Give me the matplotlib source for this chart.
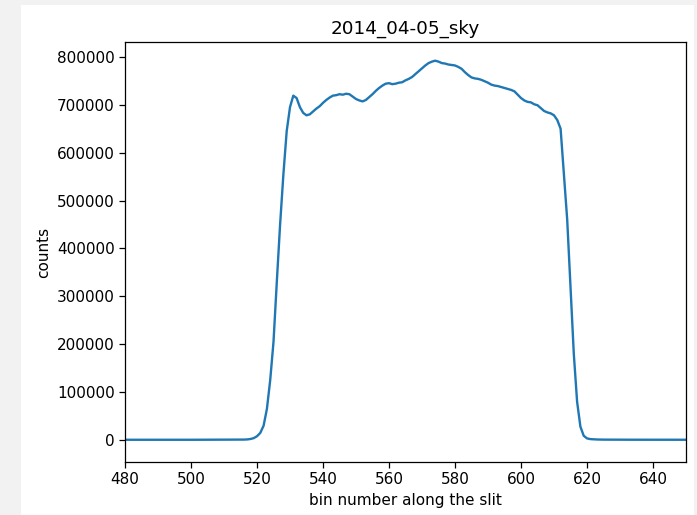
import matplotlib
matplotlib.use("Agg")
import matplotlib.pyplot as plt
from matplotlib.patches import Rectangle

# Sky spectrum collapsed along the dispersion axis: counts per spatial bin
bins = list(range(480, 651))
counts = [
    # 480-499
    620, 610, 630, 600, 610, 620, 640, 610, 600, 620,
    630, 610, 620, 640, 630, 610, 620, 630, 640, 650,
    # 500-519
    640, 630, 650, 660, 650, 640, 660, 670, 680, 690,
    700, 720, 740, 780, 830, 900, 1000, 1300, 2200, 4000,
    # 520-539
    8000, 15000, 30000, 65000, 125000, 205000, 330000, 450000, 555000, 645000,
    695000, 719000, 714000, 695000, 683000, 678000, 680000, 686000, 692000, 697000,
    # 540-559
    704000, 710000, 715000, 719000, 720000, 722000, 721000, 723000, 722000, 717000,
    712000, 709000, 707000, 710000, 716000, 722000, 729000, 735000, 740000, 744000,
    # 560-579
    745000, 743000, 744000, 746000, 747000, 751000, 754000, 758000, 764000, 770000,
    776000, 782000, 787000, 790000, 792000, 790000, 787000, 786000, 784000, 783000,
    # 580-599
    782000, 779000, 775000, 768000, 762000, 757000, 755000, 754000, 752000, 749000,
    746000, 742000, 740000, 739000, 737000, 735000, 733000, 731000, 728000, 721000,
    # 600-619
    714000, 709000, 706000, 705000, 701000, 699000, 693000, 687000, 684000, 682000,
    678000, 668000, 650000, 555000, 460000, 320000, 180000, 80000, 28000, 9000,
    # 620-639
    3500, 2000, 1500, 1200, 1000, 900, 850, 800, 780, 760,
    750, 740, 730, 720, 710, 700, 700, 690, 690, 680,
    # 640-650
    680, 670, 670, 660, 660, 650, 650, 640, 640, 630, 630,
]

xticks = [480, 500, 520, 540, 560, 580, 600, 620, 640]
yticks = [0, 100000, 200000, 300000, 400000, 500000, 600000, 700000, 800000]

fig = plt.figure(figsize=(6.97, 5.15), dpi=100, facecolor="#f2f2f2")
# white canvas on the grey page, kept behind the axes
fig.patches.append(Rectangle((21 / 697, 0), 673 / 697, 510 / 515,
                             transform=fig.transFigure, facecolor="white",
                             edgecolor="none", zorder=-10))

ax = fig.add_axes([125 / 697, 1 - 462 / 515, 561 / 697, 420 / 515])
ax.plot(bins, counts, color="#1f77b4", lw=1.7)

ax.set_xlim(480, 650)
ax.set_ylim(-45800, 831000)
ax.set_xticks(xticks)
ax.set_yticks(yticks)
ax.ticklabel_format(style="plain", axis="y")
ax.tick_params(labelsize=11, length=4, width=0.9)
for s in ax.spines.values():
    s.set_linewidth(0.9)

ax.set_title("2014_04-05_sky", fontsize=13.2)
ax.set_xlabel("bin number along the slit", fontsize=11)
ax.set_ylabel("counts", fontsize=11)

fig.savefig("out.png", dpi=100, facecolor=fig.get_facecolor())
